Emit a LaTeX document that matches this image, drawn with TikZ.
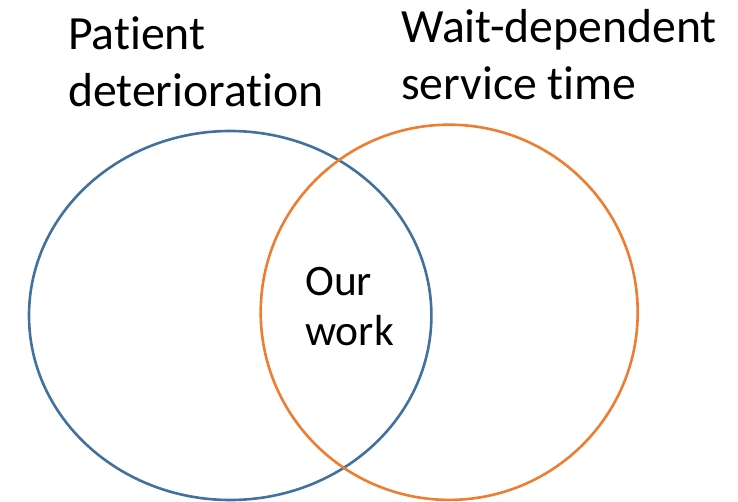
\documentclass[tikz,border=0pt]{standalone}
\usepackage{fontspec}
\setmainfont{Carlito}[Ligatures=NoCommon]
\definecolor{setblue}{HTML}{41719C}
\definecolor{setorange}{HTML}{ED7D31}
\begin{document}
\begin{tikzpicture}[x=1pt,y=1pt,
  setline/.style={line width=2.6pt},
  label/.style={inner sep=0pt, align=left, anchor=base west, font=\fontsize{47.7}{57}\selectfont},
  smalllabel/.style={label, font=\fontsize{43.5}{50}\selectfont}]
\useasboundingbox (0,0) rectangle (738,-502);
\draw[setline, setblue] (230.2,-315.5) ellipse [x radius=201.2, y radius=184.5];
\draw[setline, setorange] (449.2,-312.3) ellipse [x radius=188.5, y radius=187.6];
\node[label] (pd) at (68,-107) {Patient\\deterioration};
\node[label] (wd) at (401,-100) {Wait-dependent\\service time};
\node[smalllabel] (ow) at (305,-345) {Our\\work};
\end{tikzpicture}
\end{document}
